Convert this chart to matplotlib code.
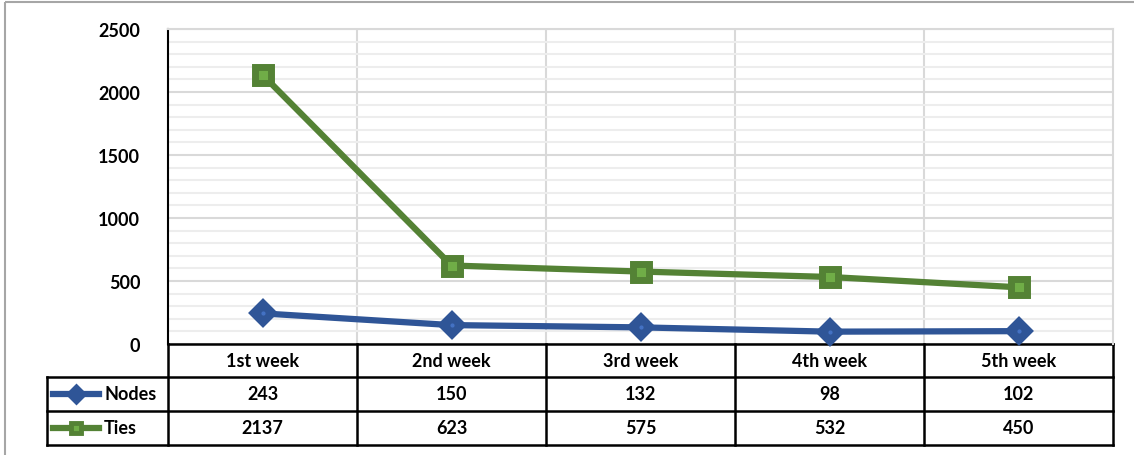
import matplotlib.pyplot as plt
import matplotlib.transforms as mtransforms
from matplotlib.patches import Rectangle

weeks = ['1st week', '2nd week', '3rd week', '4th week', '5th week']
nodes = [243, 150, 132, 98, 102]
ties = [2137, 623, 575, 532, 450]
series_names = ['Nodes', 'Ties']
yticks = [0, 500, 1000, 1500, 2000, 2500]

blue = '#2F5597'
blue_light = '#4472C4'
green = '#548235'
green_light = '#70AD47'
W, H = 1134, 456

plt.rcParams['font.family'] = ['Lato', 'DejaVu Sans']
fig = plt.figure(figsize=(W / 100, H / 100), dpi=100)

# overlay in pixel coordinates (y down)
pix = fig.add_axes([0, 0, 1, 1])
pix.set_xlim(0, W)
pix.set_ylim(H, 0)
pix.axis('off')
pix.add_patch(Rectangle((5, 3), W, H, fill=False, edgecolor='#A6A6A6', lw=1.5))

# plot area
left, right, top, bottom = 168, 1113, 30, 345
ax = fig.add_axes([left / W, (H - bottom) / H, (right - left) / W, (bottom - top) / H])
x = list(range(len(weeks)))
ax.set_xlim(-0.5, len(weeks) - 0.5)
ax.set_ylim(0, 2500)
ax.set_yticks(yticks)
ax.set_yticklabels([str(v) for v in yticks], fontsize=13, fontweight='bold')
ax.set_yticks(range(0, 2501, 100), minor=True)
ax.tick_params(axis='y', which='both', length=0, pad=20)
ax.set_xticks([i + 0.5 for i in x[:-1]])
ax.set_xticklabels([])
ax.tick_params(axis='x', length=0)
ax.grid(axis='y', which='major', color='#D9D9D9', lw=1.5)
ax.grid(axis='y', which='minor', color='#EDEDED', lw=1.5)
ax.grid(axis='x', which='major', color='#D9D9D9', lw=1.5)
for s in ['top', 'right']:
    ax.spines[s].set_color('#D9D9D9')
    ax.spines[s].set_linewidth(1.5)
ax.spines['left'].set_color('black')
ax.spines['left'].set_linewidth(1.5)
ax.spines['bottom'].set_visible(False)

# series
ax.plot(x, nodes, color=blue, lw=4.5, marker='D', markersize=12, markerfacecolor=blue,
        markeredgecolor=blue, markeredgewidth=3, zorder=3, clip_on=False)
ax.plot(x, nodes, linestyle='none', marker='o', markersize=2, color=blue_light, zorder=4)
ax.plot(x, ties, color=green, lw=4.5, marker='s', markersize=11, markerfacecolor=green_light,
        markeredgecolor=green, markeredgewidth=5, zorder=3, clip_on=False)

# data table below the plot (x in data coords, y in pixels)
tr = mtransforms.blended_transform_factory(ax.transData, pix.transData)
rows_y = [345, 378, 412, 446]
lc = dict(color='black', lw=1.8, clip_on=False, transform=tr)
ax.plot([-0.5, len(weeks) - 0.5], [rows_y[0], rows_y[0]], **lc)
for yy in rows_y[1:]:
    pix.plot([47, right], [yy, yy], color='black', lw=1.8, clip_on=False)
pix.plot([47, 47], [rows_y[1], rows_y[3]], color='black', lw=1.8)
for i in range(len(weeks) + 1):
    ax.plot([i - 0.5, i - 0.5], [rows_y[0], rows_y[3]], **lc)

txt = dict(fontsize=13, fontweight='bold', ha='center', va='center', transform=tr)
for i, w in enumerate(weeks):
    ax.text(i, (rows_y[0] + rows_y[1]) / 2, w, **txt)
    ax.text(i, (rows_y[1] + rows_y[2]) / 2, str(nodes[i]), **txt)
    ax.text(i, (rows_y[2] + rows_y[3]) / 2, str(ties[i]), **txt)

# legend keys in table
yc = (rows_y[1] + rows_y[2]) / 2
pix.plot([53, 99], [yc, yc], color=blue, lw=4.5)
pix.plot([76], [yc], marker='D', markersize=9, color=blue, markeredgewidth=2)
pix.text(104, yc, series_names[0], fontsize=13, fontweight='bold', ha='left', va='center')
yc = (rows_y[2] + rows_y[3]) / 2
pix.plot([53, 99], [yc, yc], color=green, lw=4.5)
pix.plot([76], [yc], marker='s', markersize=7, markerfacecolor=green_light,
         markeredgecolor=green, markeredgewidth=3.5)
pix.text(104, yc, series_names[1], fontsize=13, fontweight='bold', ha='left', va='center')

fig.savefig('out.png', dpi=100)
